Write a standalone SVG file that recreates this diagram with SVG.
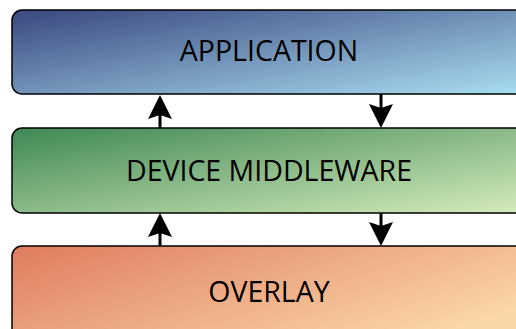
<svg xmlns="http://www.w3.org/2000/svg" width="516" height="329" viewBox="0 0 516 329">
<style>
.box{stroke:#000;stroke-width:1.5}
.lbl{font-family:"Open Sans","Liberation Sans",sans-serif;font-size:28.5px;fill:#000;text-anchor:middle}
.conn{stroke:#000;stroke-width:3;fill:none;marker-end:url(#ah)}
</style>
<defs>
<linearGradient id="gBlue" x1="0" y1="0" x2="1" y2="1">
<stop offset="0" stop-color="#3a477e"/>
<stop offset="1" stop-color="#a9def2"/>
</linearGradient>
<linearGradient id="gGreen" x1="0" y1="0" x2="1" y2="1">
<stop offset="0" stop-color="#3f8856"/>
<stop offset="1" stop-color="#d6ecbb"/>
</linearGradient>
<linearGradient id="gOrange" x1="0" y1="0" x2="1" y2="0.6">
<stop offset="0" stop-color="#df7c60"/>
<stop offset="1" stop-color="#fbd6a8"/>
</linearGradient>
<marker id="ah" viewBox="-13 -13 26 26" markerWidth="26" markerHeight="26" refX="0" refY="0" orient="auto" markerUnits="userSpaceOnUse">
<path d="M12,0 L-12,-12 L-8,0 L-12,12 Z" fill="#000"/>
</marker>
</defs>
<g id="application">
<rect class="box" x="12" y="10" width="514" height="84" rx="10" fill="url(#gBlue)"/>
<text class="lbl" x="269" y="61">APPLICATION</text>
</g>
<g id="device-middleware">
<rect class="box" x="12" y="128" width="514" height="85" rx="10" fill="url(#gGreen)"/>
<text class="lbl" x="269" y="181">DEVICE MIDDLEWARE</text>
</g>
<g id="overlay">
<rect class="box" x="12" y="246" width="514" height="100" rx="10" fill="url(#gOrange)"/>
<text class="lbl" x="269" y="302">OVERLAY</text>
</g>
<g id="connectors">
<path class="conn" d="M160,128 V107"/>
<path class="conn" d="M381,94 V116"/>
<path class="conn" d="M160,246 V225"/>
<path class="conn" d="M381,213 V234"/>
</g>
</svg>
